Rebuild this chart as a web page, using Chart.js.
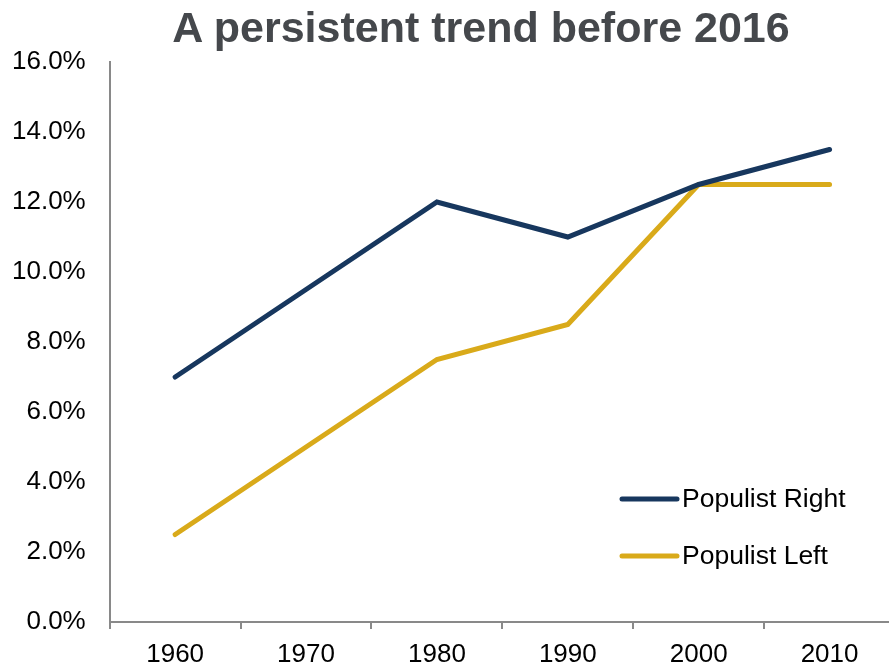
<!DOCTYPE html>
<html>
<head>
<meta charset="utf-8">
<script src="https://cdn.jsdelivr.net/npm/chart.js@4"></script>
<style>
  html, body { margin: 0; padding: 0; background: #fff; overflow: hidden; width: 889px; height: 664px; }
  .container { position: relative; width: 889px; height: 664px; overflow: hidden; }
  #grafico { position: absolute; left: -4px; top: 0; display: block; }
  .titulo {
    position: absolute; left: 0; top: 3px; width: 962px; text-align: center;
    font: bold 43px "Liberation Sans", Arial, sans-serif; color: #45484c;
  }
</style>
</head>
<body>
<div class="container">
  <canvas id="grafico" width="899" height="681"></canvas>
  <div class="titulo">A persistent trend before 2016</div>
</div>
<script>
const anos = ['1960', '1970', '1980', '1990', '2000', '2010'];
const populistRight = [7.0, 9.5, 12.0, 11.0, 12.5, 13.5];
const populistLeft = [2.5, 5.0, 7.5, 8.5, 12.5, 12.5];
const yMin = 0, yMax = 16, yStep = 2;

const fonte = '"Liberation Sans", Arial, sans-serif';

// legenda desenhada dentro da area do grafico, canto inferior direito
const legendaInterna = {
    id: 'legendaInterna',
    afterDraw(chart) {
        const ctx = chart.ctx;
        const area = chart.chartArea;
        ctx.save();
        ctx.font = '26.5px ' + fonte;
        ctx.textBaseline = 'middle';
        ctx.lineCap = 'round';
        chart.data.datasets.forEach((ds, i) => {
            const y = area.bottom - 123 + i * 57;
            const x = area.right - 273;
            ctx.strokeStyle = ds.borderColor;
            ctx.lineWidth = 5;
            ctx.beginPath();
            ctx.moveTo(x, y);
            ctx.lineTo(x + 55, y);
            ctx.stroke();
            ctx.fillStyle = '#000';
            ctx.fillText(ds.label, x + 60, y + 1);
        });
        ctx.restore();
    }
};

const config = {
    type: 'line',
    data: {
        labels: anos,
        datasets: [{
            label: 'Populist Right',
            data: populistRight,
            borderColor: '#17375e',
            backgroundColor: '#17375e',
            borderWidth: 5,
            pointRadius: 0,
            borderCapStyle: 'round',
            tension: 0
        }, {
            label: 'Populist Left',
            data: populistLeft,
            borderColor: '#d9aa1a',
            backgroundColor: '#d9aa1a',
            borderWidth: 5,
            pointRadius: 0,
            borderCapStyle: 'round',
            tension: 0
        }]
    },
    options: {
        responsive: false,
        animation: false,
        layout: {
            padding: { top: 62, left: 0, right: 0, bottom: 0 }
        },
        plugins: {
            legend: { display: false },
            title: { display: false },
            tooltip: { enabled: false }
        },
        scales: {
            x: {
                offset: true,
                grid: {
                    offset: true,
                    drawOnChartArea: false,
                    drawTicks: true,
                    tickLength: 7,
                    color: '#898989',
                    lineWidth: 2
                },
                border: { color: '#898989', width: 2 },
                ticks: {
                    color: '#000',
                    padding: 13,
                    maxRotation: 0,
                    font: { family: fonte, size: 26, lineHeight: 1 }
                }
            },
            y: {
                min: yMin,
                max: yMax,
                grid: { display: false },
                border: { color: '#898989', width: 2 },
                ticks: {
                    stepSize: yStep,
                    color: '#000',
                    padding: 16,
                    font: { family: fonte, size: 26, lineHeight: 1 },
                    callback: v => v.toFixed(1) + '%'
                }
            }
        }
    },
    plugins: [legendaInterna]
};

new Chart(document.getElementById('grafico'), config);
</script>
</body>
</html>
